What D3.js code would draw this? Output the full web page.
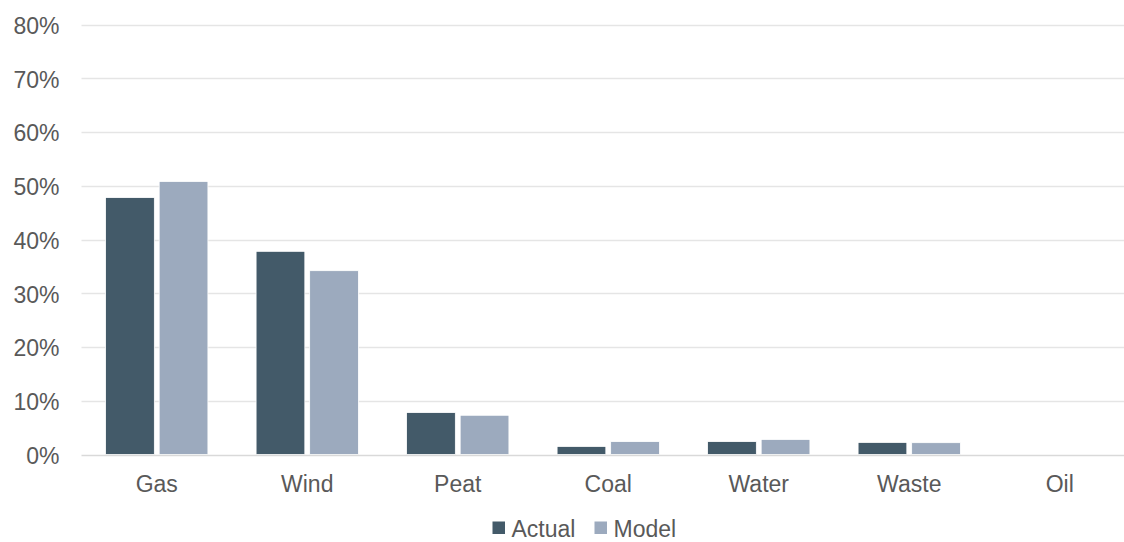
<!DOCTYPE html>
<html>
<head>
<meta charset="utf-8">
<script src="https://cdn.jsdelivr.net/npm/d3@7"></script>
<style>
  html, body { margin: 0; padding: 0; background: #fff; overflow: hidden; }
  svg { display: block; font-family: "Liberation Sans", Arial, sans-serif; }
</style>
</head>
<body>
<svg id="chart" width="1124" height="542"></svg>
<script>
// Generation mix by fuel source: actual share vs. modelled share
const categories = ["Gas", "Wind", "Peat", "Coal", "Water", "Waste", "Oil"];
const seriesNames = ["Actual", "Model"];
const actualValues = [0.478, 0.378, 0.078, 0.015, 0.024, 0.0225, 0];
const modelValues  = [0.508, 0.342, 0.073, 0.024, 0.028, 0.022, 0];
const yTicks = [0, 0.1, 0.2, 0.3, 0.4, 0.5, 0.6, 0.7, 0.8];

const colors = { Actual: "#435a69", Model: "#9caabe" };
const textColor = "#595959";
const fontSize = "23px";

const svg = d3.select("#chart");
const plotLeft = 81.5;
const plotRight = 1135;
const plotTop = 24.5;
const plotBottom = 454.5;

const x = d3.scaleBand()
  .domain(categories)
  .range([plotLeft, plotRight])
  .paddingInner(0)
  .paddingOuter(0);

const y = d3.scaleLinear()
  .domain([0, 0.8])
  .range([plotBottom, plotTop]);

// each category holds a pair of bars separated by a small gap
const groupWidth = x.bandwidth() * 0.68;
const x1 = d3.scaleBand()
  .domain(seriesNames)
  .range([0, groupWidth])
  .paddingInner(0.09)
  .paddingOuter(0);

// horizontal gridlines
svg.append("g")
  .selectAll("line")
  .data(yTicks.filter(d => d > 0))
  .join("line")
  .attr("x1", plotLeft)
  .attr("x2", plotRight)
  .attr("y1", d => Math.round(y(d)) + 0.5)
  .attr("y2", d => Math.round(y(d)) + 0.5)
  .attr("stroke", "#e5e5e5")
  .attr("stroke-width", 1.3);

// y axis labels
const yAxis = d3.axisLeft(y)
  .tickValues(yTicks)
  .tickFormat(d3.format(".0%"))
  .tickSize(0)
  .tickPadding(22);
const yg = svg.append("g")
  .attr("transform", `translate(${plotLeft},0)`)
  .call(yAxis);
yg.select(".domain").remove();
yg.selectAll("text")
  .attr("fill", textColor)
  .attr("dy", "0.38em")
  .style("font-size", fontSize)
  .style("font-family", "'Liberation Sans', Arial, sans-serif");

// bars
const rows = categories.map((c, i) => ({ cat: c, Actual: actualValues[i], Model: modelValues[i] }));
const groups = svg.append("g")
  .selectAll("g")
  .data(rows)
  .join("g")
  .attr("transform", d => `translate(${x(d.cat) + (x.bandwidth() - groupWidth) / 2},0)`);

groups.selectAll("rect")
  .data(d => seriesNames.map(s => ({ s, v: d[s] })).filter(e => e.v > 0))
  .join("rect")
  .attr("x", d => x1(d.s))
  .attr("width", x1.bandwidth())
  .attr("y", d => y(d.v))
  .attr("height", d => plotBottom - y(d.v))
  .attr("fill", d => colors[d.s])
  .attr("stroke", "#ffffff")
  .attr("stroke-width", 0.8);

// baseline
svg.append("line")
  .attr("x1", plotLeft)
  .attr("x2", plotRight)
  .attr("y1", Math.round(plotBottom) + 0.5)
  .attr("y2", Math.round(plotBottom) + 0.5)
  .attr("stroke", "#d9d9d9")
  .attr("stroke-width", 1.5);

// x axis labels
const xAxis = d3.axisBottom(x).tickSize(0).tickPadding(21);
const xg = svg.append("g")
  .attr("transform", `translate(0,${plotBottom})`)
  .call(xAxis);
xg.select(".domain").remove();
xg.selectAll("text")
  .attr("fill", textColor)
  .style("font-size", fontSize)
  .style("font-family", "'Liberation Sans', Arial, sans-serif");

// legend
const legend = svg.append("g").attr("transform", "translate(492.5,521.5)");
const legendOffsets = [0, 102];
const legendItems = legend.selectAll("g")
  .data(seriesNames)
  .join("g")
  .attr("transform", (d, i) => `translate(${legendOffsets[i]},0)`);
legendItems.append("rect")
  .attr("x", 0)
  .attr("y", 0)
  .attr("width", 12.5)
  .attr("height", 12.5)
  .attr("fill", d => colors[d]);
legendItems.append("text")
  .attr("x", 19)
  .attr("y", 15)
  .attr("fill", textColor)
  .style("font-size", fontSize)
  .text(d => d);
</script>
</body>
</html>
